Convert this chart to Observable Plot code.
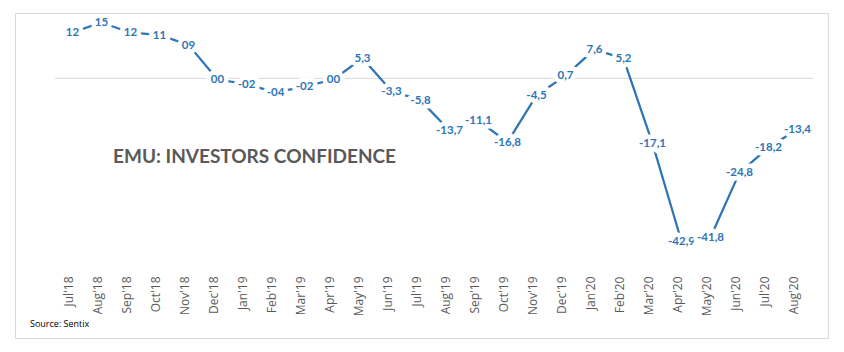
<!DOCTYPE html>
<html>
<head>
<meta charset="utf-8">
<script src="https://cdn.jsdelivr.net/npm/d3@7"></script>
<script src="https://cdn.jsdelivr.net/npm/@observablehq/plot@0.6"></script>
<style>
  html, body { margin: 0; padding: 0; background: #fff; }
  #wrap { position: relative; width: 844px; height: 352px; overflow: hidden; }
  #frame { position: absolute; left: 15px; top: 13px; width: 812px; height: 324px; border: 1px solid #d9d9d9; pointer-events: none; }
  #title { position: absolute; left: 113px; top: 144px; font-family: Lato, "Open Sans", sans-serif; font-weight: 700; font-size: 19px; color: #595959; white-space: nowrap; }
  #source { position: absolute; left: 30px; top: 317px; font-family: "Open Sans", Lato, sans-serif; font-size: 9px; color: #000; }
  #chart { position: absolute; left: 0; top: 0; }
</style>
</head>
<body>
<div id="wrap">
  <div id="chart"></div>
  <div id="frame"></div>
  <div id="title">EMU: INVESTORS CONFIDENCE</div>
  <div id="source">Source: Sentix</div>
</div>
<script>
const months = ["Jul'18","Aug'18","Sep'18","Oct'18","Nov'18","Dec'18","Jan'19","Feb'19","Mar'19","Apr'19","May'19","Jun'19","Jul'19","Aug'19","Sep'19","Oct'19","Nov'19","Dec'19","Jan'20","Feb'20","Mar'20","Apr'20","May'20","Jun'20","Jul'20","Aug'20"];
const values = [12.1, 14.7, 12.0, 11.4, 8.8, -0.3, -1.5, -3.7, -2.2, -0.3, 5.3, -3.3, -5.8, -13.7, -11.1, -16.8, -4.5, 0.7, 7.6, 5.2, -17.1, -42.9, -41.8, -24.8, -18.2, -13.4];
const labels = ["12","15","12","11","09","00","-02","-04","-02","00","5,3","-3,3","-5,8","-13,7","-11,1","-16,8","-4,5","0,7","7,6","5,2","-17,1","-42,9","-41,8","-24,8","-18,2","-13,4"];

const data = months.map((m, i) => ({month: m, value: values[i], label: labels[i]}));

const chart = Plot.plot({
  width: 844,
  height: 352,
  marginLeft: 55,
  marginRight: 31,
  marginTop: 17,
  marginBottom: 84,
  style: { fontFamily: "'Open Sans', sans-serif", background: "transparent" },
  x: { type: "point", domain: months, padding: 0.5, axis: null },
  y: { domain: [-50, 16], axis: null },
  marks: [
    Plot.ruleY([0], { stroke: "#d9d9d9", strokeWidth: 1 }),
    Plot.line(data, { x: "month", y: "value", stroke: "#2E75B6", strokeWidth: 2.25 }),
    Plot.text(data, { x: "month", y: "value", text: "label", fill: "#2E75B6", stroke: "white", strokeWidth: 9, fontWeight: "bold", fontSize: 11.5, fontFamily: "Lato, sans-serif" }),
    Plot.text(months, { x: d => d, text: d => d, frameAnchor: "bottom", rotate: -90, textAnchor: "end", dy: 8, fontSize: 12, fontFamily: "'Open Sans', sans-serif", fill: "#595959" })
  ]
});
document.getElementById("chart").appendChild(chart);
</script>
</body>
</html>
